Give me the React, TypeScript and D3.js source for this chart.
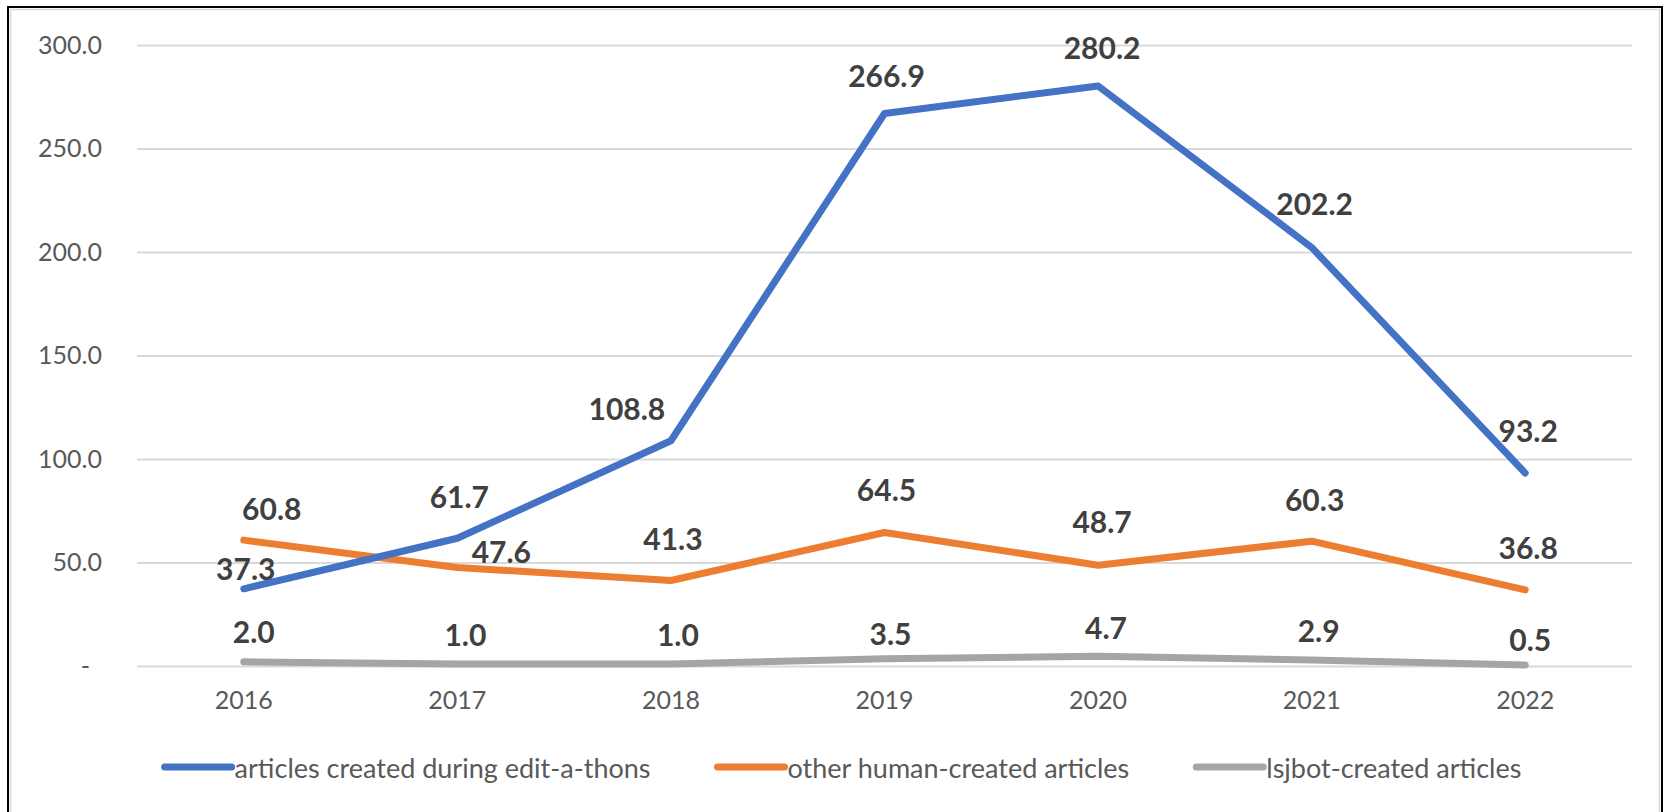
import React, { useEffect, useRef } from 'react';
import * as d3 from 'd3';

const years = ['2016', '2017', '2018', '2019', '2020', '2021', '2022'];
const editathon = [37.3, 61.7, 108.8, 266.9, 280.2, 202.2, 93.2];
const otherHuman = [60.8, 47.6, 41.3, 64.5, 48.7, 60.3, 36.8];
const lsjbot = [2.0, 1.0, 1.0, 3.5, 4.7, 2.9, 0.5];
const yTicks = [0, 50, 100, 150, 200, 250, 300];

const seriesNames = [
  'articles created during edit-a-thons',
  'other human-created articles',
  'lsjbot-created articles',
];

// label placement relative to the point (layout only)
const labelOffsets: [number, number][][] = [
  [[2, -21], [2, -42], [-44, -33], [2, -39], [4, -39], [3, -44], [3, -43]],
  [[28, -32], [44, -16], [2, -43], [2, -43], [4, -44], [3, -42], [3, -43]],
  [[10, -31], [8, -30], [7, -30], [6, -26], [8, -29], [7, -30], [5, -26]],
];

const colors = ['#4472C4', '#ED7D31', '#A5A5A5'];

const W = 1670;
const H = 812;
const margin = { left: 137, right: 38, top: 45, bottom: 146 };

const App: React.FC = () => {
  const svgRef = useRef<SVGSVGElement>(null);

  useEffect(() => {
    if (!svgRef.current) return;
    const svg = d3.select(svgRef.current);
    svg.selectAll('*').remove();

    const font = 'Lato, "Open Sans", sans-serif';
    const x0 = margin.left;
    const x1 = W - margin.right;
    const y0 = H - margin.bottom;
    const y1 = margin.top;

    svg.append('rect').attr('width', W).attr('height', H).attr('fill', '#fff');

    // chart border
    svg.append('rect')
      .attr('x', 10.5).attr('y', 9.5).attr('width', W - 21).attr('height', H + 20)
      .attr('fill', 'none').attr('stroke', '#d9d9d9').attr('stroke-width', 1.5);
    svg.append('rect')
      .attr('x', 8).attr('y', 7).attr('width', W - 16).attr('height', H + 20)
      .attr('fill', 'none').attr('stroke', '#000').attr('stroke-width', 2);

    const x = d3.scaleBand().domain(years).range([x0, x1]);
    const y = d3.scaleLinear().domain([0, 300]).range([y0, y1]);
    const cx = (d: string) => (x(d) || 0) + x.bandwidth() / 2;

    // gridlines + y labels
    const yAxis = svg.append('g')
      .attr('transform', `translate(${x0},0)`)
      .call(
        d3.axisLeft(y)
          .tickValues(yTicks)
          .tickSize(-(x1 - x0))
          .tickPadding(35)
          .tickFormat(d => (+d === 0 ? '-' : d3.format('.1f')(+d)))
      );
    yAxis.select('.domain').remove();
    yAxis.selectAll('.tick line').attr('stroke', '#d9d9d9').attr('stroke-width', 2);
    yAxis.selectAll('.tick text')
      .attr('fill', '#595959')
      .style('font-family', font)
      .style('font-size', '25px')
      .attr('x', (d: any) => (+d === 0 ? -47 : -35));

    // x labels
    const xAxis = svg.append('g')
      .attr('transform', `translate(0,${y0})`)
      .call(d3.axisBottom(x).tickSize(0).tickPadding(25));
    xAxis.select('.domain').remove();
    xAxis.selectAll('.tick text')
      .attr('fill', '#595959')
      .style('font-family', font)
      .style('font-size', '25px');

    const allSeries = [editathon, otherHuman, lsjbot];
    const line = d3.line<number>()
      .x((_, i) => cx(years[i]))
      .y(d => y(d));

    // draw in reverse so blue sits on top
    [2, 1, 0].forEach(si => {
      svg.append('path')
        .datum(allSeries[si])
        .attr('d', line)
        .attr('fill', 'none')
        .attr('stroke', colors[si])
        .attr('stroke-width', 7)
        .attr('stroke-linecap', 'round')
        .attr('stroke-linejoin', 'round');
    });

    allSeries.forEach((vals, si) => {
      svg.append('g')
        .selectAll('text')
        .data(vals)
        .enter()
        .append('text')
        .attr('x', (_, i) => cx(years[i]) + labelOffsets[si][i][0])
        .attr('y', (d, i) => y(d) + labelOffsets[si][i][1])
        .attr('text-anchor', 'middle')
        .attr('dominant-baseline', 'central')
        .attr('fill', '#404040')
        .style('font-family', font)
        .style('font-size', '30px')
        .style('font-weight', 'bold')
        .text(d => d.toFixed(1));
    });

    // legend
    const legendY = 767;
    const lineLen = 67;
    const textGap = 3;
    const itemGap = 67;
    const lg = svg.append('g');
    const items = seriesNames.map((name, i) => {
      const g = lg.append('g');
      g.append('line')
        .attr('x1', 0).attr('x2', lineLen)
        .attr('y1', legendY).attr('y2', legendY)
        .attr('stroke', colors[i]).attr('stroke-width', 7)
        .attr('stroke-linecap', 'round');
      const t = g.append('text')
        .attr('x', lineLen + textGap)
        .attr('y', legendY)
        .attr('dominant-baseline', 'central')
        .attr('fill', '#595959')
        .style('font-family', font)
        .style('font-size', '27px')
        .text(name);
      const w = (t.node() as SVGTextElement).getComputedTextLength();
      return { g, w: lineLen + textGap + w };
    });
    const total = d3.sum(items, d => d.w) + itemGap * (items.length - 1);
    let pos = 843 - total / 2;
    items.forEach(it => {
      it.g.attr('transform', `translate(${pos},0)`);
      pos += it.w + itemGap;
    });
  }, []);

  return (
    <svg
      ref={svgRef}
      width={W}
      height={H}
      style={{ position: 'absolute', left: 0, top: 0 }}
    />
  );
};

export default App;
